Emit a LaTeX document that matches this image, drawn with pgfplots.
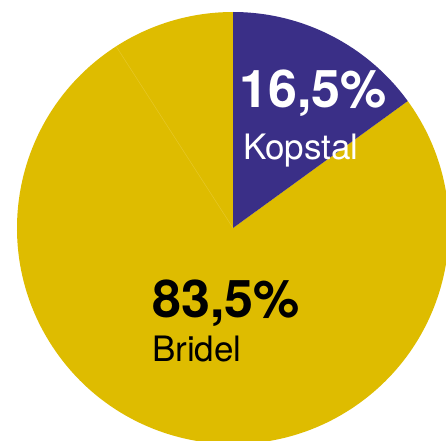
\documentclass[border=0pt]{standalone}
\usepackage{pgfplots}
\pgfplotsset{compat=1.18}
\usepackage{fontspec}
\setmainfont{TeX Gyre Heros}

\definecolor{kopstal}{RGB}{58,47,135}
\definecolor{bridel}{RGB}{222,188,0}
\definecolor{seam}{RGB}{230,200,40}

% shares (percent of the full circle)
\def\shareKopstal{15.0}
\def\shareBridelA{75.9}
% centre and radius of the pie, in axis units (1 unit = 1 px)
\def\cx{233}
\def\cy{212}
\def\rad{216}

\begin{document}
\begin{tikzpicture}
\begin{axis}[
    width=446pt, height=440pt,
    scale only axis,
    xmin=0, xmax=446,
    ymin=0, ymax=440,
    hide axis,
    clip=true,
]
\pgfmathsetmacro{\aK}{90-3.6*\shareKopstal}
\pgfmathsetmacro{\aB}{\aK-3.6*\shareBridelA}
% Bridel (two pieces of the same colour)
\fill[bridel] (axis cs:\cx,\cy) -- ++(\aK:\rad) arc[start angle=\aK, end angle=-270, radius=\rad] -- cycle;
\draw[seam, line width=0.5pt] (axis cs:\cx,\cy) -- ++(\aB:\rad);
% Kopstal
\fill[kopstal] (axis cs:\cx,\cy) -- ++(90:\rad) arc[start angle=90, end angle=\aK, radius=\rad] -- cycle;

\node[anchor=base west, inner sep=0, text=white, font=\fontsize{52}{52}\selectfont\bfseries] at (axis cs:239,333) {16,5\%};
\node[anchor=base west, inner sep=0, text=white, font=\fontsize{35}{35}\selectfont] at (axis cs:243,281) {Kopstal};
\node[anchor=base west, inner sep=0, text=black, font=\fontsize{52}{52}\selectfont\bfseries] at (axis cs:152,123) {83,5\%};
\node[anchor=base west, inner sep=0, text=black, font=\fontsize{35}{35}\selectfont] at (axis cs:152,79) {Bridel};
\end{axis}
\pgfresetboundingbox
\useasboundingbox (current axis.south west) rectangle (current axis.north east);
\end{tikzpicture}
\end{document}
